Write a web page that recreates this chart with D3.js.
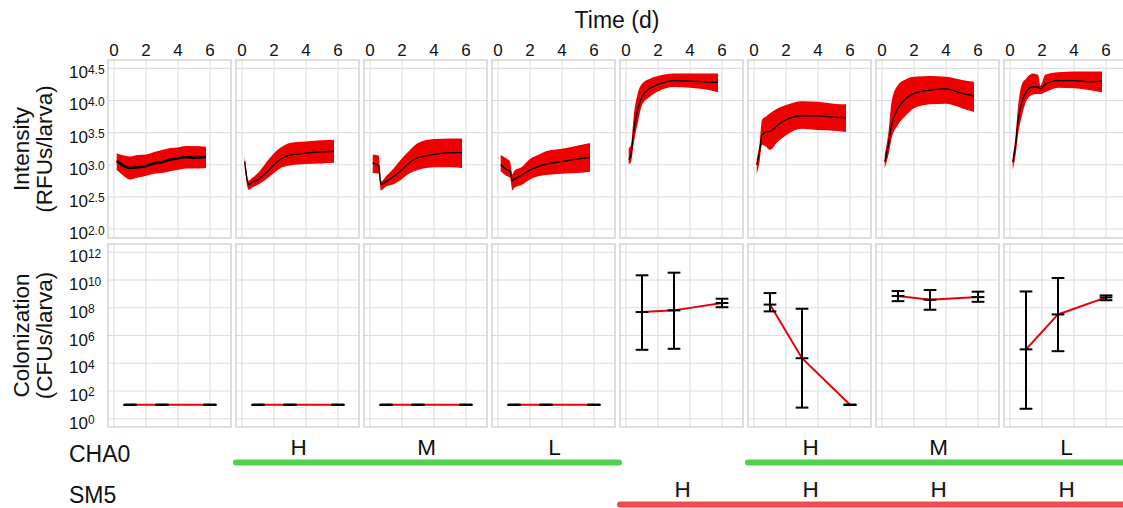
<!DOCTYPE html>
<html>
<head>
<meta charset="utf-8">
<script src="https://cdn.jsdelivr.net/npm/d3@7"></script>
<style>
  body { margin: 0; background: #fff; }
  text { font-family: "Liberation Sans", Arial, Helvetica, sans-serif; fill: #111; }
</style>
</head>
<body>
<div id="root"></div>
<script>
// strain labels under each column
const cha0Labels = ["", "H", "M", "L", "", "H", "M", "L"];
const sm5Labels = ["", "", "", "", "H", "H", "H", "H"];

// intensity, log10(RFUs/larva): [day, mean, low, high]
const int1 = [[0.17, 3.06, 2.92, 3.18], [0.5, 3.00, 2.85, 3.15], [1.0, 2.95, 2.77, 3.13], [1.5, 2.96, 2.80, 3.15],
  [2.0, 2.98, 2.83, 3.16], [2.5, 3.02, 2.86, 3.20], [3.0, 3.04, 2.87, 3.23], [3.5, 3.08, 2.90, 3.26],
  [4.0, 3.10, 2.92, 3.27], [4.5, 3.12, 2.94, 3.29], [5.0, 3.11, 2.94, 3.29], [5.75, 3.12, 2.95, 3.28]];
const int2 = [[0.17, 3.05, 2.93, 3.14], [0.42, 2.69, 2.61, 2.75], [0.6, 2.72, 2.64, 2.79], [1.0, 2.77, 2.69, 2.87],
  [1.5, 2.87, 2.77, 3.03], [2.0, 3.00, 2.87, 3.18], [2.5, 3.10, 2.96, 3.28], [3.0, 3.15, 2.99, 3.34],
  [4.0, 3.18, 3.01, 3.36], [5.0, 3.20, 3.02, 3.38], [5.75, 3.21, 3.03, 3.39]];
const int3 = [[0.17, 3.03, 2.87, 3.16], [0.55, 2.98, 2.86, 3.14], [0.68, 2.69, 2.60, 2.74], [1.0, 2.74, 2.66, 2.82],
  [1.5, 2.82, 2.70, 2.95], [2.0, 2.92, 2.78, 3.10], [2.5, 3.04, 2.87, 3.23], [3.0, 3.11, 2.92, 3.34],
  [4.0, 3.16, 2.96, 3.40], [5.0, 3.19, 2.96, 3.41], [5.75, 3.19, 2.95, 3.41]];
const int4 = [[0.17, 3.00, 2.90, 3.15], [0.5, 2.93, 2.83, 3.10], [0.75, 2.90, 2.80, 3.05], [0.9, 2.75, 2.60, 2.85],
  [1.0, 2.77, 2.64, 2.90], [1.5, 2.84, 2.69, 2.97], [2.0, 2.92, 2.77, 3.09], [2.5, 2.97, 2.82, 3.15],
  [3.0, 3.01, 2.84, 3.21], [4.0, 3.05, 2.86, 3.25], [5.0, 3.09, 2.87, 3.30], [5.75, 3.11, 2.89, 3.34]];
const int5 = [[0.17, 3.08, 3.01, 3.26], [0.3, 3.15, 3.03, 3.30], [0.5, 3.54, 3.36, 3.80], [0.75, 3.88, 3.67, 4.13],
  [1.0, 4.06, 3.93, 4.26], [1.5, 4.19, 4.06, 4.34], [2.0, 4.25, 4.14, 4.38], [3.0, 4.31, 4.21, 4.42],
  [4.0, 4.30, 4.20, 4.42], [5.0, 4.29, 4.17, 4.42], [5.75, 4.28, 4.13, 4.42]];
const int6 = [[0.17, 3.00, 2.85, 3.08], [0.35, 3.21, 3.05, 3.34], [0.5, 3.46, 3.31, 3.70], [0.75, 3.51, 3.28, 3.75],
  [1.0, 3.52, 3.23, 3.80], [1.5, 3.62, 3.36, 3.88], [2.0, 3.70, 3.46, 3.93], [3.0, 3.76, 3.56, 3.99],
  [4.0, 3.76, 3.54, 3.98], [5.0, 3.74, 3.53, 3.95], [5.75, 3.73, 3.51, 3.94]];
const int7 = [[0.17, 3.05, 2.95, 3.15], [0.4, 3.31, 3.15, 3.50], [0.6, 3.62, 3.41, 3.98], [1.0, 3.88, 3.62, 4.24],
  [1.5, 4.03, 3.77, 4.33], [2.0, 4.11, 3.88, 4.37], [3.0, 4.16, 3.94, 4.38], [4.0, 4.18, 3.95, 4.37],
  [5.0, 4.11, 3.88, 4.32], [5.75, 4.07, 3.82, 4.29]];
const int8 = [[0.17, 3.04, 2.92, 3.12], [0.35, 3.31, 3.15, 3.46], [0.5, 3.67, 3.46, 3.90], [0.75, 3.98, 3.77, 4.26],
  [1.0, 4.13, 3.98, 4.34], [1.4, 4.21, 4.09, 4.42], [1.75, 4.21, 4.10, 4.40], [1.9, 4.18, 4.10, 4.23],
  [2.2, 4.25, 4.13, 4.40], [3.0, 4.31, 4.20, 4.44], [4.0, 4.31, 4.19, 4.45], [5.0, 4.29, 4.16, 4.45],
  [5.75, 4.30, 4.13, 4.45]];
const intensity = [int1, int2, int3, int4, int5, int6, int7, int8];

// colonization, CFUs/larva, sampled at these days
const colDays = [1, 3, 6];
const colMean = [[10, 10, 10], [10, 10, 10], [10, 10, 10], [10, 10, 10],
  [4.9e7, 6.5e7, 2.2e8], [1.7e8, 2.3e4, 10], [7.1e8, 3.8e8, 5.9e8], [1.0e5, 3.3e7, 5.6e8]];
const colLow = [[10, 10, 10], [10, 10, 10], [10, 10, 10], [10, 10, 10],
  [9.3e4, 1.1e5, 1.1e8], [5.5e7, 6.3, 10], [3.0e8, 7.2e7, 2.7e8], [5.2, 7.4e4, 3.5e8]];
const colHigh = [[10, 10, 10], [10, 10, 10], [10, 10, 10], [10, 10, 10],
  [2.2e10, 3.4e10, 4.5e8], [1.15e9, 8.5e7, 10], [1.6e9, 1.9e9, 1.45e9], [1.5e9, 1.4e10, 7.8e8]];

// axis ticks
const dayTicks = [0, 2, 4, 6];
const intTicks = [2.0, 2.5, 3.0, 3.5, 4.0, 4.5];
const colTicks = [0, 2, 4, 6, 8, 10, 12];

const W = 1123, H = 508;
const panelW = 123, step = 128, left0 = 108;
const topRow = { y: 60, h: 178 };
const botRow = { y: 244, h: 183 };
const red = "#ee0000", grid = "#dedede", border = "#cccccc";

const svg = d3.select("#root").append("svg")
  .attr("width", W)
  .attr("height", H);

const x = d3.scaleLinear().domain([-0.375, 7.31]).range([0, panelW]);
const yInt = d3.scaleLog().domain([Math.pow(10, 1.86), Math.pow(10, 4.63)]).range([topRow.h, 0]);
const yCol = d3.scaleLog().domain([Math.pow(10, -0.6), Math.pow(10, 12.6)]).range([botRow.h, 0]);

const makePanel = (i, row, yScale, expTicks) => {
  const g = svg.append("g")
    .attr("transform", "translate(" + (left0 + step * i) + "," + row.y + ")");
  g.selectAll(".vgrid").data(dayTicks).enter().append("line")
    .attr("x1", d => x(d)).attr("x2", d => x(d))
    .attr("y1", 0).attr("y2", row.h)
    .attr("stroke", grid).attr("stroke-width", 1.1);
  g.selectAll(".hgrid").data(expTicks).enter().append("line")
    .attr("x1", 0).attr("x2", panelW)
    .attr("y1", d => yScale(Math.pow(10, d))).attr("y2", d => yScale(Math.pow(10, d)))
    .attr("stroke", grid).attr("stroke-width", 1.1);
  g.append("rect")
    .attr("width", panelW).attr("height", row.h)
    .attr("fill", "none").attr("stroke", border).attr("stroke-width", 1.3);
  return g;
};

// intensity row
const ribbon = d3.area()
  .x(d => x(d[0]))
  .y0(d => yInt(Math.pow(10, d[2])))
  .y1(d => yInt(Math.pow(10, d[3])))
  .curve(d3.curveMonotoneX);
const meanLine = d3.line()
  .x(d => x(d[0]))
  .y(d => yInt(Math.pow(10, d[1])))
  .curve(d3.curveMonotoneX);

intensity.forEach((series, i) => {
  const g = makePanel(i, topRow, yInt, intTicks);
  g.append("path").datum(series).attr("d", ribbon).attr("fill", red);
  g.append("path").datum(series).attr("d", meanLine)
    .attr("fill", "none").attr("stroke", "#000").attr("stroke-width", i === 0 ? 2.6 : 1.3);
});

// colonization row
const capW = 12.7;
colMean.forEach((means, i) => {
  const g = makePanel(i, botRow, yCol, colTicks);
  const pts = colDays.map((d, k) => ({ day: d, mean: means[k], low: colLow[i][k], high: colHigh[i][k] }));
  g.append("path").datum(pts)
    .attr("d", d3.line().x(p => x(p.day)).y(p => yCol(p.mean)))
    .attr("fill", "none").attr("stroke", "#e8000a").attr("stroke-width", 2);
  const bars = g.selectAll(".err").data(pts).enter().append("g");
  bars.append("line")
    .attr("x1", p => x(p.day)).attr("x2", p => x(p.day))
    .attr("y1", p => yCol(p.low)).attr("y2", p => yCol(p.high))
    .attr("stroke", "#000").attr("stroke-width", 2);
  ["low", "mean", "high"].forEach(key => {
    bars.append("line")
      .attr("x1", p => x(p.day) - capW / 2).attr("x2", p => x(p.day) + capW / 2)
      .attr("y1", p => yCol(p[key])).attr("y2", p => yCol(p[key]))
      .attr("stroke", "#000").attr("stroke-width", 2);
  });
});

// x tick labels on top
for (let i = 0; i < 8; i++) {
  svg.selectAll(".xt" + i).data(dayTicks).enter().append("text")
    .attr("x", d => left0 + step * i + x(d))
    .attr("y", 56)
    .attr("text-anchor", "middle")
    .attr("font-size", 17)
    .text(d => d);
}

// y tick labels as powers of ten
const powLabel = (yPos, exp) => {
  const t = svg.append("text").attr("x", 69).attr("y", yPos + 10).attr("font-size", 17);
  t.append("tspan").text("10");
  t.append("tspan").attr("dy", -4.5).attr("font-size", 12).text(exp);
};
intTicks.forEach(v => powLabel(topRow.y + yInt(Math.pow(10, v)), d3.format(".1f")(v)));
colTicks.forEach(v => powLabel(botRow.y + yCol(Math.pow(10, v)), v));

// titles
svg.append("text").attr("x", 617).attr("y", 28).attr("text-anchor", "middle")
  .attr("font-size", 23).text("Time (d)");

const yTitle = (cy, lines) => {
  lines.forEach((s, k) => {
    svg.append("text")
      .attr("transform", "translate(" + (29 + 23 * k) + "," + cy + ") rotate(-90)")
      .attr("text-anchor", "middle")
      .attr("font-size", 22.5)
      .text(s);
  });
};
yTitle(topRow.y + topRow.h / 2, ["Intensity", "(RFUs/larva)"]);
yTitle(botRow.y + botRow.h / 2, ["Colonization", "(CFUs/larva)"]);

// strain rows below the panels
svg.append("text").attr("x", 69).attr("y", 462).attr("font-size", 23).text("CHA0");
svg.append("text").attr("x", 69).attr("y", 503).attr("font-size", 23).text("SM5");

const stripe = (from, to, yPos, color) => {
  svg.append("line")
    .attr("x1", left0 + step * from).attr("x2", left0 + step * to + panelW + 4)
    .attr("y1", yPos).attr("y2", yPos)
    .attr("stroke", color).attr("stroke-width", 6).attr("stroke-linecap", "round");
};
stripe(1, 3, 462.5, "#52d14a");
stripe(5, 7, 462.5, "#52d14a");
stripe(4, 7, 504.5, "#f04b4f");

cha0Labels.forEach((s, i) => {
  if (!s) return;
  svg.append("text").attr("x", left0 + step * i + panelW / 2 + 1).attr("y", 455)
    .attr("text-anchor", "middle").attr("font-size", 22.5).text(s);
});
sm5Labels.forEach((s, i) => {
  if (!s) return;
  svg.append("text").attr("x", left0 + step * i + panelW / 2 + 1).attr("y", 497)
    .attr("text-anchor", "middle").attr("font-size", 22.5).text(s);
});
</script>
</body>
</html>
